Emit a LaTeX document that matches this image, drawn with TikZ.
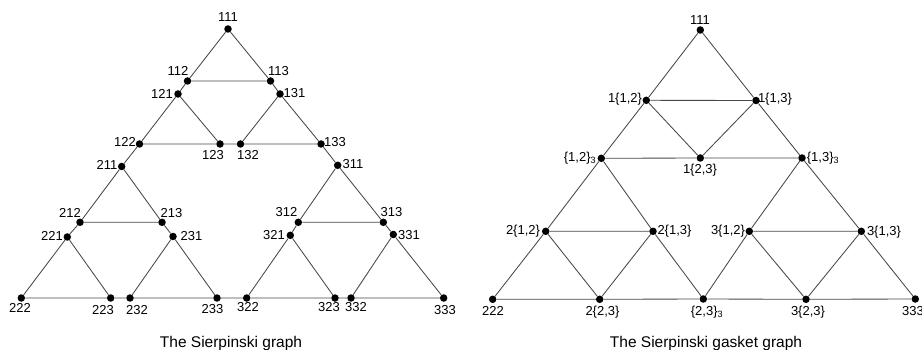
\documentclass[tikz,border=0pt]{standalone}
\usepackage{fontspec}
\setmainfont{Liberation Sans}
\begin{document}
\begin{tikzpicture}[x=1pt,y=-1pt,
  dot/.style={circle,fill=black,inner sep=0pt,minimum size=7.5pt},
  edge/.style={draw=black!72,line width=0.85pt},
  lab/.style={font=\fontsize{13}{15}\selectfont,inner sep=0pt,text height=9.3pt,text depth=0pt},
  captext/.style={font=\fontsize{15.5}{18}\selectfont,inner sep=0pt,anchor=base}]
\useasboundingbox (0,0) rectangle (922,350);
% ---------------- left: Sierpinski graph ----------------
\node[dot] (a111) at (228,29) {};
\node[dot] (a112) at (187.5,81) {};
\node[dot] (a113) at (270.5,81) {};
\node[dot] (a121) at (178,94) {};
\node[dot] (a131) at (280,94) {};
\node[dot] (a122) at (139.5,144) {};
\node[dot] (a123) at (220,144) {};
\node[dot] (a132) at (240.5,144) {};
\node[dot] (a133) at (321,144) {};
\node[dot] (a211) at (121.7,166.5) {};
\node[dot] (a212) at (80,222.3) {};
\node[dot] (a213) at (162,222.3) {};
\node[dot] (a221) at (67.3,237) {};
\node[dot] (a231) at (173,236.5) {};
\node[dot] (a222) at (21.3,298) {};
\node[dot] (a223) at (110.7,298) {};
\node[dot] (a232) at (130,298) {};
\node[dot] (a233) at (217,298) {};
\node[dot] (a311) at (337.7,165.3) {};
\node[dot] (a312) at (298.3,222.3) {};
\node[dot] (a313) at (383.3,222.3) {};
\node[dot] (a321) at (290.3,235.3) {};
\node[dot] (a331) at (393.3,234.5) {};
\node[dot] (a322) at (246.7,298) {};
\node[dot] (a323) at (335,298) {};
\node[dot] (a332) at (351,298) {};
\node[dot] (a333) at (443.7,298) {};
\path[edge]
  (a111) -- (a112) (a111) -- (a113) (a112) -- (a113)
  (a112) -- (a121) (a113) -- (a131)
  (a121) -- (a122) (a121) -- (a123) (a131) -- (a132) (a131) -- (a133)
  (a122) -- (a123) (a123) -- (a132) (a132) -- (a133)
  (a122) -- (a211) (a133) -- (a311)
  (a211) -- (a212) (a211) -- (a213) (a212) -- (a213)
  (a212) -- (a221) (a213) -- (a231)
  (a221) -- (a222) (a221) -- (a223) (a231) -- (a232) (a231) -- (a233)
  (a222) -- (a223) (a223) -- (a232) (a232) -- (a233) (a233) -- (a322)
  (a311) -- (a312) (a311) -- (a313) (a312) -- (a313)
  (a312) -- (a321) (a313) -- (a331)
  (a321) -- (a322) (a321) -- (a323) (a331) -- (a332) (a331) -- (a333)
  (a322) -- (a323) (a323) -- (a332) (a332) -- (a333);
\node[lab] (l111) at (228,16.5) {111};
\node[lab] (l112) at (178,71) {112};
\node[lab] (l113) at (278.5,71) {113};
\node[lab] (l121) at (162,93.5) {121};
\node[lab] (l131) at (294.5,93) {131};
\node[lab] (l122) at (125,141.5) {122};
\node[lab] (l123) at (213,155) {123};
\node[lab] (l132) at (248,155) {132};
\node[lab] (l133) at (335,141.5) {133};
\node[lab] (l211) at (107,164.5) {211};
\node[lab] (l311) at (353,163.5) {311};
\node[lab] (l212) at (70,213) {212};
\node[lab] (l213) at (171.5,212.5) {213};
\node[lab] (l221) at (52,236) {221};
\node[lab] (l231) at (191.5,236) {231};
\node[lab] (l222) at (20,308) {222};
\node[lab] (l223) at (103,310) {223};
\node[lab] (l232) at (137,310) {232};
\node[lab] (l233) at (212.5,308.5) {233};
\node[lab] (l322) at (248,307) {322};
\node[lab] (l323) at (329,307) {323};
\node[lab] (l332) at (356,307) {332};
\node[lab] (l333) at (445,310) {333};
\node[lab] (l312) at (286.5,212) {312};
\node[lab] (l313) at (391.5,212) {313};
\node[lab] (l321) at (274,235) {321};
\node[lab] (l331) at (409,234.5) {331};
\node[captext] (capA) at (231,347) {The Sierpinski graph};
% ---------------- right: Sierpinski gasket graph ----------------
\node[dot] (b111) at (700.3,30) {};
\node[dot] (b1a) at (646.3,100.3) {};
\node[dot] (b1b) at (756,100.5) {};
\node[dot] (b12) at (601.3,158.3) {};
\node[dot] (b1c) at (700.3,158) {};
\node[dot] (b13) at (802,158) {};
\node[dot] (b2a) at (545.7,231.3) {};
\node[dot] (b2b) at (653,231.3) {};
\node[dot] (b3a) at (749.3,231.3) {};
\node[dot] (b3b) at (861.3,231.3) {};
\node[dot] (b222) at (492.7,299.3) {};
\node[dot] (b2c) at (599.7,299.3) {};
\node[dot] (b23) at (703.3,299) {};
\node[dot] (b3c) at (806,299.3) {};
\node[dot] (b333) at (915.3,299) {};
\path[edge]
  (b111) -- (b1a) (b1a) -- (b12) (b12) -- (b2a) (b2a) -- (b222)
  (b111) -- (b1b) (b1b) -- (b13) (b13) -- (b3b) (b3b) -- (b333)
  (b1a) -- (b1b) (b12) -- (b1c) (b1c) -- (b13)
  (b2a) -- (b2b) (b3a) -- (b3b)
  (b222) -- (b2c) (b2c) -- (b23) (b23) -- (b3c) (b3c) -- (b333)
  (b1a) -- (b1c) (b1c) -- (b1b)
  (b12) -- (b2b) (b2b) -- (b23) (b13) -- (b3a) (b3a) -- (b23)
  (b2a) -- (b2c) (b2c) -- (b2b) (b3a) -- (b3c) (b3c) -- (b3b);
\node[lab] (m111) at (700,20) {111};
\node[lab] (m1a) at (625,97.5) {1\{1,2\}};
\node[lab] (m1b) at (775,97.5) {1\{1,3\}};
\node[lab] (m12) at (580,156.5) {\{1,2\}\textsubscript{3}};
\node[lab] (m1c) at (700,168.5) {1\{2,3\}};
\node[lab] (m13) at (823,156.5) {\{1,3\}\textsubscript{3}};
\node[lab] (m2a) at (523,230) {2\{1,2\}};
\node[lab] (m2b) at (674.5,230) {2\{1,3\}};
\node[lab] (m3a) at (728,230) {3\{1,2\}};
\node[lab] (m3b) at (884,230.5) {3\{1,3\}};
\node[lab] (m222) at (493,311) {222};
\node[lab] (m2c) at (602.5,311) {2\{2,3\}};
\node[lab] (m23) at (707,311) {\{2,3\}\textsubscript{3}};
\node[lab] (m3c) at (808,311) {3\{2,3\}};
\node[lab] (m333) at (913,311) {333};
\node[captext] (capB) at (706,347) {The Sierpinski gasket graph};
\end{tikzpicture}
\end{document}
